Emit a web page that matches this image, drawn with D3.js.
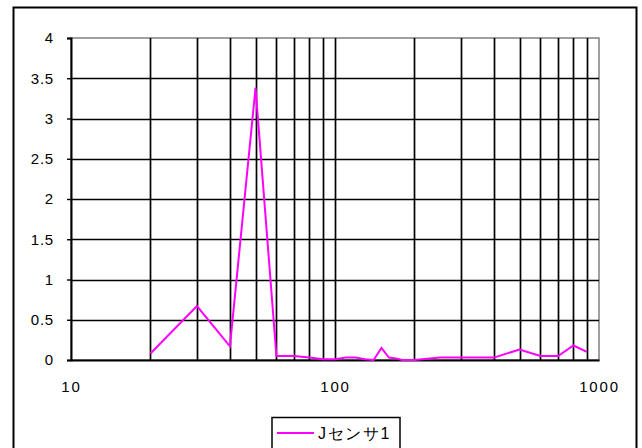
<!DOCTYPE html>
<html>
<head>
<meta charset="utf-8">
<script src="https://cdn.jsdelivr.net/npm/d3@7"></script>
<style>
  html, body { margin: 0; padding: 0; background: #fff; }
  svg { display: block; }
  text { font-family: "Liberation Sans", Arial, sans-serif; fill: #000; }
</style>
</head>
<body>
<svg id="chart" width="642" height="448"></svg>
<script>
// Frequency (Hz) and measured level for sensor J1
const freqs = [20, 30, 40, 50, 60, 70, 80, 90, 100, 110, 120, 130, 140, 150, 160, 170, 180, 190, 200, 250, 300, 400, 500, 600, 700, 800, 900];
const values = [0.08, 0.67, 0.17, 3.38, 0.05, 0.05, 0.03, 0.01, 0.01, 0.03, 0.03, 0.01, 0.0, 0.15, 0.03, 0.02, 0.0, 0.0, 0.0, 0.03, 0.03, 0.03, 0.13, 0.05, 0.05, 0.18, 0.10];
const seriesName = "Jセンサ1";
const xTickLabels = [10, 100, 1000];
const yTickValues = [0, 0.5, 1, 1.5, 2, 2.5, 3, 3.5, 4];

const svg = d3.select("#chart");
const plot = { left: 71, top: 38, right: 599, bottom: 360 };

const x = d3.scaleLog().domain([10, 1000]).range([plot.left, plot.right]);
const y = d3.scaleLinear().domain([0, 4]).range([plot.bottom, plot.top]);

// Outer chart frame
svg.append("rect")
  .attr("x", 13.5).attr("y", 7.5)
  .attr("width", 623).attr("height", 445)
  .attr("fill", "#fff").attr("stroke", "#000").attr("stroke-width", 2);

// Plot area border (top/right grey)
svg.append("rect")
  .attr("x", plot.left).attr("y", plot.top)
  .attr("width", plot.right - plot.left).attr("height", plot.bottom - plot.top)
  .attr("fill", "#fff").attr("stroke", "#808080").attr("stroke-width", 1.5);

// Vertical grid lines at every log step
const minorTicks = [];
for (let dec = 10; dec < 1000; dec *= 10) {
  for (let k = 2; k <= 9; k++) minorTicks.push(dec * k);
}
minorTicks.push(100);
svg.append("g").selectAll("line").data(minorTicks).join("line")
  .attr("x1", d => Math.round(x(d)) + 0.5).attr("x2", d => Math.round(x(d)) + 0.5)
  .attr("y1", plot.top).attr("y2", plot.bottom)
  .attr("stroke", "#000").attr("stroke-width", 1.7);

// Horizontal grid lines
svg.append("g").selectAll("line").data(yTickValues.filter(v => v > 0 && v < 4)).join("line")
  .attr("x1", plot.left).attr("x2", plot.right)
  .attr("y1", d => Math.round(y(d)) + 0.5).attr("y2", d => Math.round(y(d)) + 0.5)
  .attr("stroke", "#000").attr("stroke-width", 1.7);

// Axes
const yAxis = d3.axisLeft(y).tickValues(yTickValues).tickSize(4).tickPadding(13)
  .tickFormat(d => String(d));
const gy = svg.append("g").attr("transform", `translate(${plot.left},0)`).call(yAxis);
gy.attr("font-size", null).attr("font-family", null);
gy.select(".domain").attr("stroke", "#000").attr("stroke-width", 2);
gy.selectAll(".tick line").attr("stroke", "#000").attr("stroke-width", 1.4);
gy.selectAll(".tick text").style("font-size", "15px").style("letter-spacing", "0.8px");

const xAxis = d3.axisBottom(x).tickValues(xTickLabels).tickSize(0).tickPadding(21)
  .tickFormat(d => String(d));
const gx = svg.append("g").attr("transform", `translate(0,${plot.bottom})`).call(xAxis);
gx.attr("font-size", null).attr("font-family", null);
gx.select(".domain").attr("stroke", "#000").attr("stroke-width", 2);
gx.selectAll(".tick text").style("font-size", "15px").style("letter-spacing", "1.8px");

// Data line
const line = d3.line().x((d, i) => x(freqs[i])).y(d => y(d));
svg.append("path")
  .datum(values)
  .attr("fill", "none")
  .attr("stroke", "#ff00ff")
  .attr("stroke-width", 2)
  .attr("stroke-linejoin", "miter")
  .attr("d", line);

// Legend
const lg = svg.append("g");
lg.append("rect")
  .attr("x", 272).attr("y", 417.5)
  .attr("width", 128).attr("height", 40)
  .attr("fill", "#fff").attr("stroke", "#000").attr("stroke-width", 1.5);
lg.append("line")
  .attr("x1", 277).attr("x2", 314).attr("y1", 433).attr("y2", 433)
  .attr("stroke", "#ff00ff").attr("stroke-width", 2);
lg.append("text")
  .attr("x", 318).attr("y", 439)
  .style("font-size", "16px")
  .style("letter-spacing", "1.6px")
  .text(seriesName);
</script>
</body>
</html>
